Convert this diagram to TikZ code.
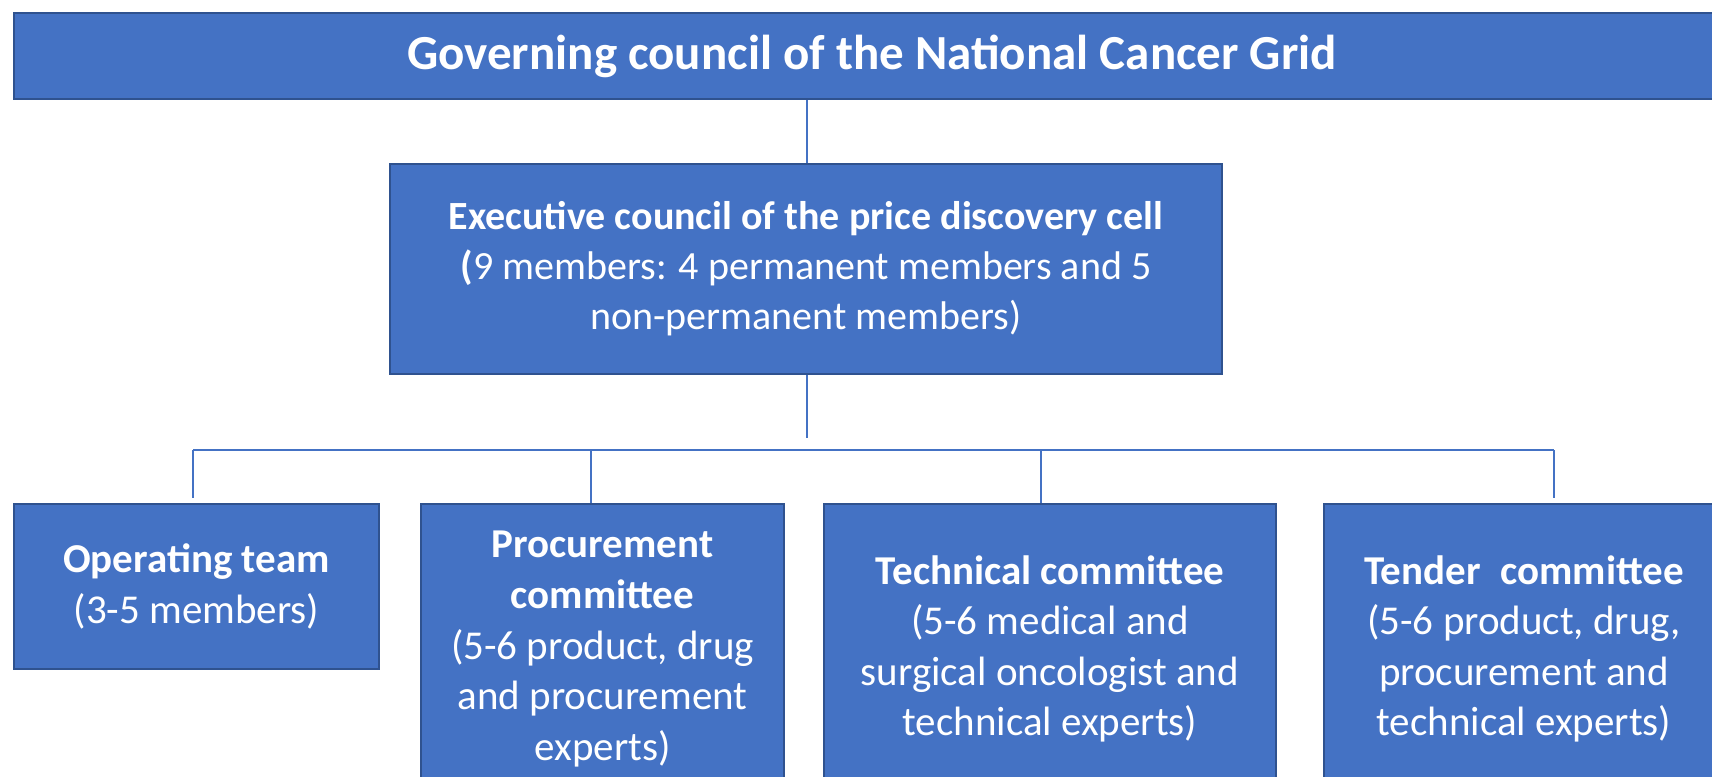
\documentclass[tikz,border=0pt]{standalone}
\usepackage{fontspec}
\setmainfont{Carlito}
\definecolor{boxfill}{HTML}{4472C4}
\definecolor{boxedge}{HTML}{2F528F}
\definecolor{linkcol}{HTML}{4472C4}
\tikzset{
  box/.style={draw=boxedge, line width=1pt, fill=boxfill, text=white,
    align=center, inner sep=0pt, anchor=north west},
  link/.style={draw=linkcol, line width=0.8pt},
}
\begin{document}
\begin{tikzpicture}[x=0.5pt, y=-0.5pt]
\useasboundingbox (0,0) rectangle (1712,776);
\clip (0,0) rectangle (1712,776);

% governing council bar across the top
\node[box, minimum width=858pt, minimum height=43pt,
      font=\fontsize{24.5}{29}\selectfont\bfseries]
  (gov) at (13,12) {Governing council of the National Cancer Grid};

% executive council
\node[box, minimum width=416pt, minimum height=105pt,
      font=\fontsize{20}{25}\selectfont]
  (exec) at (389,163) {\textbf{Executive council of the price discovery cell}\\
    \textbf{(}9 members: 4 permanent members and 5\\
    non-permanent members)};

% committees
\tikzset{sub/.style={box, font=\fontsize{20.5}{25.3}\selectfont}}
\node[sub, minimum width=182.5pt, minimum height=82.5pt]
  (op) at (13,503) {\textbf{Operating team}\\(3-5 members)};
\node[sub, minimum width=181.5pt, minimum height=145pt]
  (proc) at (420,503) {\textbf{Procurement}\\\textbf{committee}\\(5-6 product, drug\\and procurement\\experts)};
\node[sub, minimum width=226pt, minimum height=145pt]
  (tech) at (823,503) {\textbf{Technical committee}\\(5-6 medical and\\surgical oncologist and\\technical experts)};
\node[sub, minimum width=200pt, minimum height=145pt]
  (tend) at (1323,503) {\textbf{Tender\hspace{0.25em} committee}\\(5-6 product, drug,\\procurement and\\technical experts)};

% connectors
\coordinate (stub) at (807,438);
\coordinate (busL) at (193,450);
\coordinate (busR) at (1554,450);
\coordinate (d2) at (591,450);
\coordinate (d3) at (1041,450);

\draw[link] (gov.south -| stub) -- (stub |- exec.north);
\draw[link] (stub |- exec.south) -- (stub);
\draw[link] (busL) -- (busR);
\draw[link, shorten >=2.5pt] (busL) -- (busL |- op.north);
\draw[link] (d2) -- (d2 |- proc.north);
\draw[link] (d3) -- (d3 |- tech.north);
\draw[link, shorten >=2.5pt] (busR) -- (busR |- tend.north);
\end{tikzpicture}
\end{document}
